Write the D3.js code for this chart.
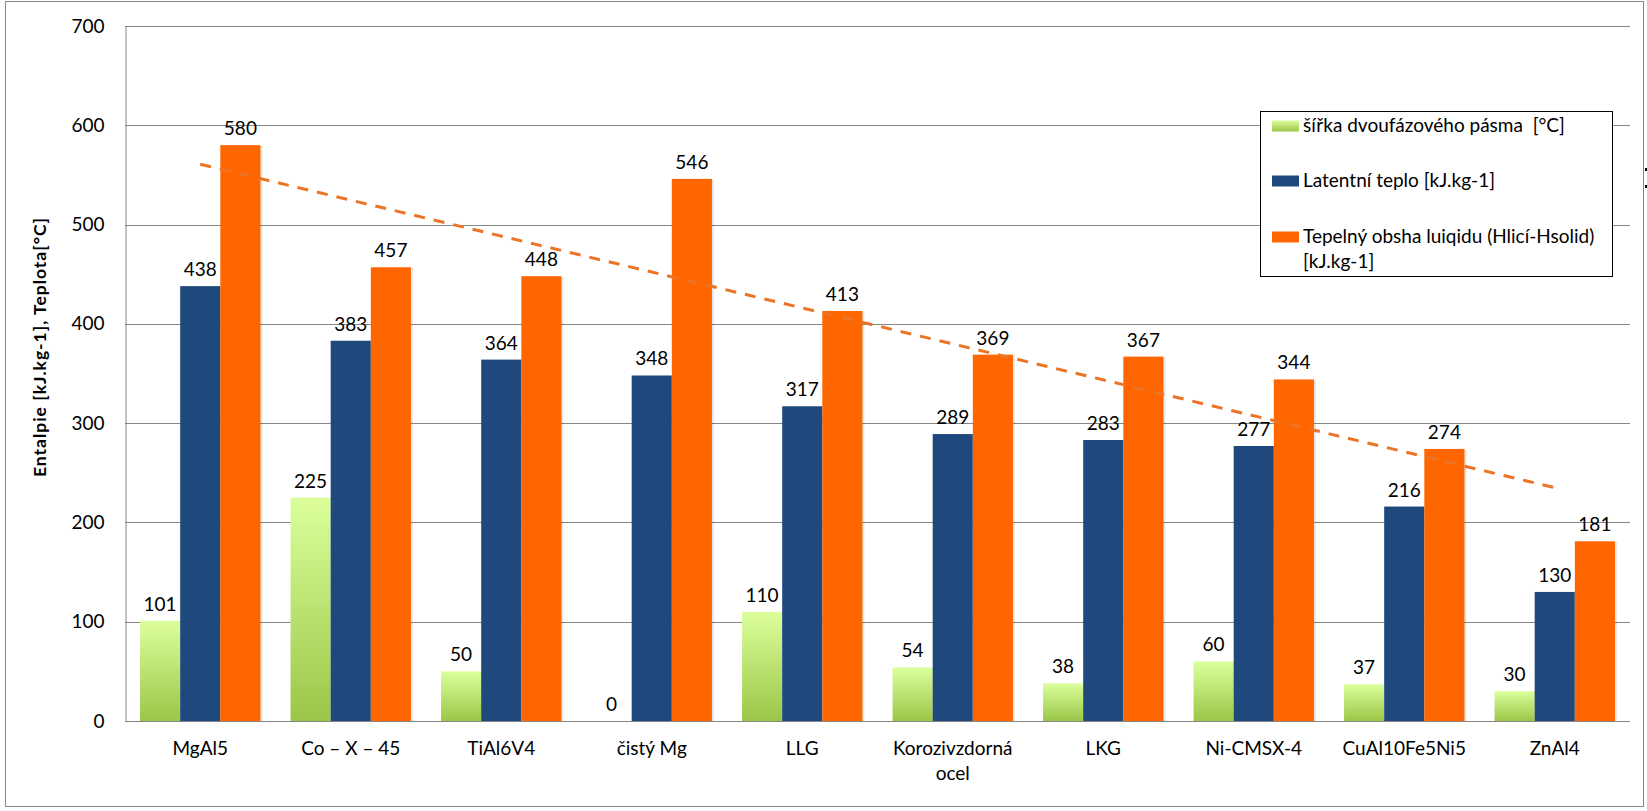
<!DOCTYPE html>
<html>
<head>
<meta charset="utf-8">
<script src="https://cdn.jsdelivr.net/npm/d3@7"></script>
<style>
  html, body { margin: 0; padding: 0; background: #fff; }
  svg text { font-family: Lato, "Open Sans", sans-serif; fill: #000; white-space: pre; }
</style>
</head>
<body>
<svg id="chart" width="1647" height="811"></svg>
<script>
// ---- data ----
const categories = ["MgAl5", "Co – X – 45", "TiAl6V4", "čistý Mg", "LLG", "Korozivzdorná ocel", "LKG", "Ni-CMSX-4", "CuAl10Fe5Ni5", "ZnAl4"];
const seriesKeys = ["twoPhase", "latent", "liquid"];
const twoPhaseWidth = [101, 225, 50, 0, 110, 54, 38, 60, 37, 30];
const latentHeat = [438, 383, 364, 348, 317, 289, 283, 277, 216, 130];
const liquidHeat = [580, 457, 448, 546, 413, 369, 367, 344, 274, 181];
const yTicks = [0, 100, 200, 300, 400, 500, 600, 700];
const legendLabels = [
  ["šířka dvoufázového pásma  [°C]"],
  ["Latentní teplo [kJ.kg-1]"],
  ["Tepelný obsha luiqidu (Hlicí-Hsolid)", "[kJ.kg-1]"]
];
const yTitle = "Entalpie [kJ.kg-1], Teplota[°C]";

// ---- layout ----
const svg = d3.select("#chart");
const plot = { left: 125, right: 1630, top: 26, bottom: 721 };
const fontSize = 19;
const colors = { latent: "#1f497d", liquid: "#ff6600", trend: "#ec7426" };

const defs = svg.append("defs");
const grad = defs.append("linearGradient").attr("id", "greenGrad")
  .attr("x1", 0).attr("y1", 0).attr("x2", 0).attr("y2", 1);
grad.append("stop").attr("offset", "0%").attr("stop-color", "#dcff9c");
grad.append("stop").attr("offset", "100%").attr("stop-color", "#9bc647");
const fills = { twoPhase: "url(#greenGrad)", latent: colors.latent, liquid: colors.liquid };

// outer border
svg.append("rect").attr("x", 5.5).attr("y", 1.5).attr("width", 1638).attr("height", 805)
  .attr("fill", "none").attr("stroke", "#868686").attr("stroke-width", 1);

const y = d3.scaleLinear().domain([0, 700]).range([plot.bottom, plot.top]);
const x0 = d3.scaleBand().domain(categories).range([plot.left, plot.right]).padding(0);
const bw = x0.bandwidth();
const x1 = d3.scaleBand().domain(seriesKeys).range([bw * 0.1, bw * 0.9]).padding(0);

// gridlines
svg.append("g").selectAll("line").data(yTicks.filter(d => d > 0)).join("line")
  .attr("x1", plot.left).attr("x2", plot.right)
  .attr("y1", d => Math.round(y(d)) + 0.5).attr("y2", d => Math.round(y(d)) + 0.5)
  .attr("stroke", "#868686").attr("stroke-width", 1);

// y axis via d3 axis
const yAxis = svg.append("g").attr("transform", `translate(${plot.left + 0.5},0)`)
  .call(d3.axisLeft(y).tickValues(yTicks).tickSize(0).tickPadding(21));
yAxis.select(".domain").attr("stroke", "#868686");
yAxis.selectAll("text").style("font-size", fontSize + "px").attr("font-family", null);

// data rows
const rows = categories.map((c, i) => ({
  cat: c,
  values: { twoPhase: twoPhaseWidth[i], latent: latentHeat[i], liquid: liquidHeat[i] }
}));

const groups = svg.append("g").selectAll("g").data(rows).join("g")
  .attr("transform", d => `translate(${x0(d.cat)},0)`);

const barData = d => seriesKeys.map(k => ({ key: k, value: d.values[k] }));

// shadows
groups.selectAll("rect.shadow").data(barData).join("rect").attr("class", "shadow")
  .attr("x", d => x1(d.key) + 2).attr("y", d => y(d.value) + 1)
  .attr("width", x1.bandwidth()).attr("height", d => Math.max(0, y(0) - y(d.value) - 1))
  .attr("fill", "#000").attr("opacity", d => d.value > 0 ? 0.1 : 0);

groups.selectAll("rect.bar").data(barData).join("rect").attr("class", "bar")
  .attr("x", d => x1(d.key)).attr("y", d => y(d.value))
  .attr("width", x1.bandwidth()).attr("height", d => y(0) - y(d.value))
  .attr("fill", d => fills[d.key]);

groups.selectAll("text.lbl").data(barData).join("text").attr("class", "lbl")
  .attr("x", d => x1(d.key) + x1.bandwidth() / 2)
  .attr("y", d => y(d.value) - 10)
  .attr("text-anchor", "middle").style("font-size", fontSize + "px")
  .text(d => d.value);

// x axis line
svg.append("line").attr("x1", plot.left).attr("x2", plot.right)
  .attr("y1", plot.bottom + 0.5).attr("y2", plot.bottom + 0.5)
  .attr("stroke", "#868686");

// x category labels with wrapping
const xl = svg.append("g");
categories.forEach(c => {
  const t = xl.append("text").attr("text-anchor", "middle").style("font-size", fontSize + "px")
    .attr("x", x0(c) + bw / 2).attr("y", 755);
  const words = c.split(" ");
  let line = [];
  let ts = t.append("tspan").attr("x", x0(c) + bw / 2).attr("dy", 0);
  words.forEach(w => {
    line.push(w);
    ts.text(line.join(" "));
    if (ts.node().getComputedTextLength() > bw - 10 && line.length > 1) {
      line.pop();
      ts.text(line.join(" "));
      line = [w];
      ts = t.append("tspan").attr("x", x0(c) + bw / 2).attr("dy", 25).text(w);
    }
  });
});

// trend line (linear regression of liquid series)
const n = liquidHeat.length;
const xs = d3.range(1, n + 1);
const mx = d3.mean(xs), my = d3.mean(liquidHeat);
const slope = d3.sum(xs, (xv, i) => (xv - mx) * (liquidHeat[i] - my)) / d3.sum(xs, xv => (xv - mx) ** 2);
const intercept = my - slope * mx;
const trendPts = [0, n - 1].map(i => [x0(categories[i]) + bw / 2, y(intercept + slope * (i + 1))]);
svg.append("path").attr("d", d3.line()(trendPts))
  .attr("stroke", colors.trend).attr("stroke-width", 3).attr("fill", "none")
  .attr("stroke-dasharray", "11,9");

// legend
const lg = svg.append("g");
lg.append("rect").attr("x", 1260.5).attr("y", 111.5).attr("width", 352).attr("height", 165)
  .attr("fill", "#fff").attr("stroke", "#000").attr("stroke-width", 1);
const legendBase = [132, 187, 243];
seriesKeys.forEach((k, i) => {
  lg.append("rect").attr("x", 1272).attr("y", legendBase[i] - 11.5).attr("width", 27).attr("height", 11)
    .attr("fill", fills[k]);
  const t = lg.append("text").attr("x", 1303).attr("y", legendBase[i]).style("font-size", fontSize + "px");
  legendLabels[i].forEach((ln, j) => {
    t.append("tspan").attr("x", 1303).attr("dy", j === 0 ? 0 : 25).text(ln);
  });
});

// small marks at right edge
svg.append("rect").attr("x", 1645).attr("y", 168).attr("width", 2).attr("height", 3).attr("fill", "#000");
svg.append("rect").attr("x", 1645).attr("y", 185).attr("width", 2).attr("height", 3).attr("fill", "#000");

// y title
svg.append("text").attr("transform", `translate(46,347.5) rotate(-90)`)
  .attr("text-anchor", "middle").style("font-size", "17.5px").style("font-weight", "bold")
  .attr("textLength", 259).attr("lengthAdjust", "spacing")
  .text(yTitle);
</script>
</body>
</html>
